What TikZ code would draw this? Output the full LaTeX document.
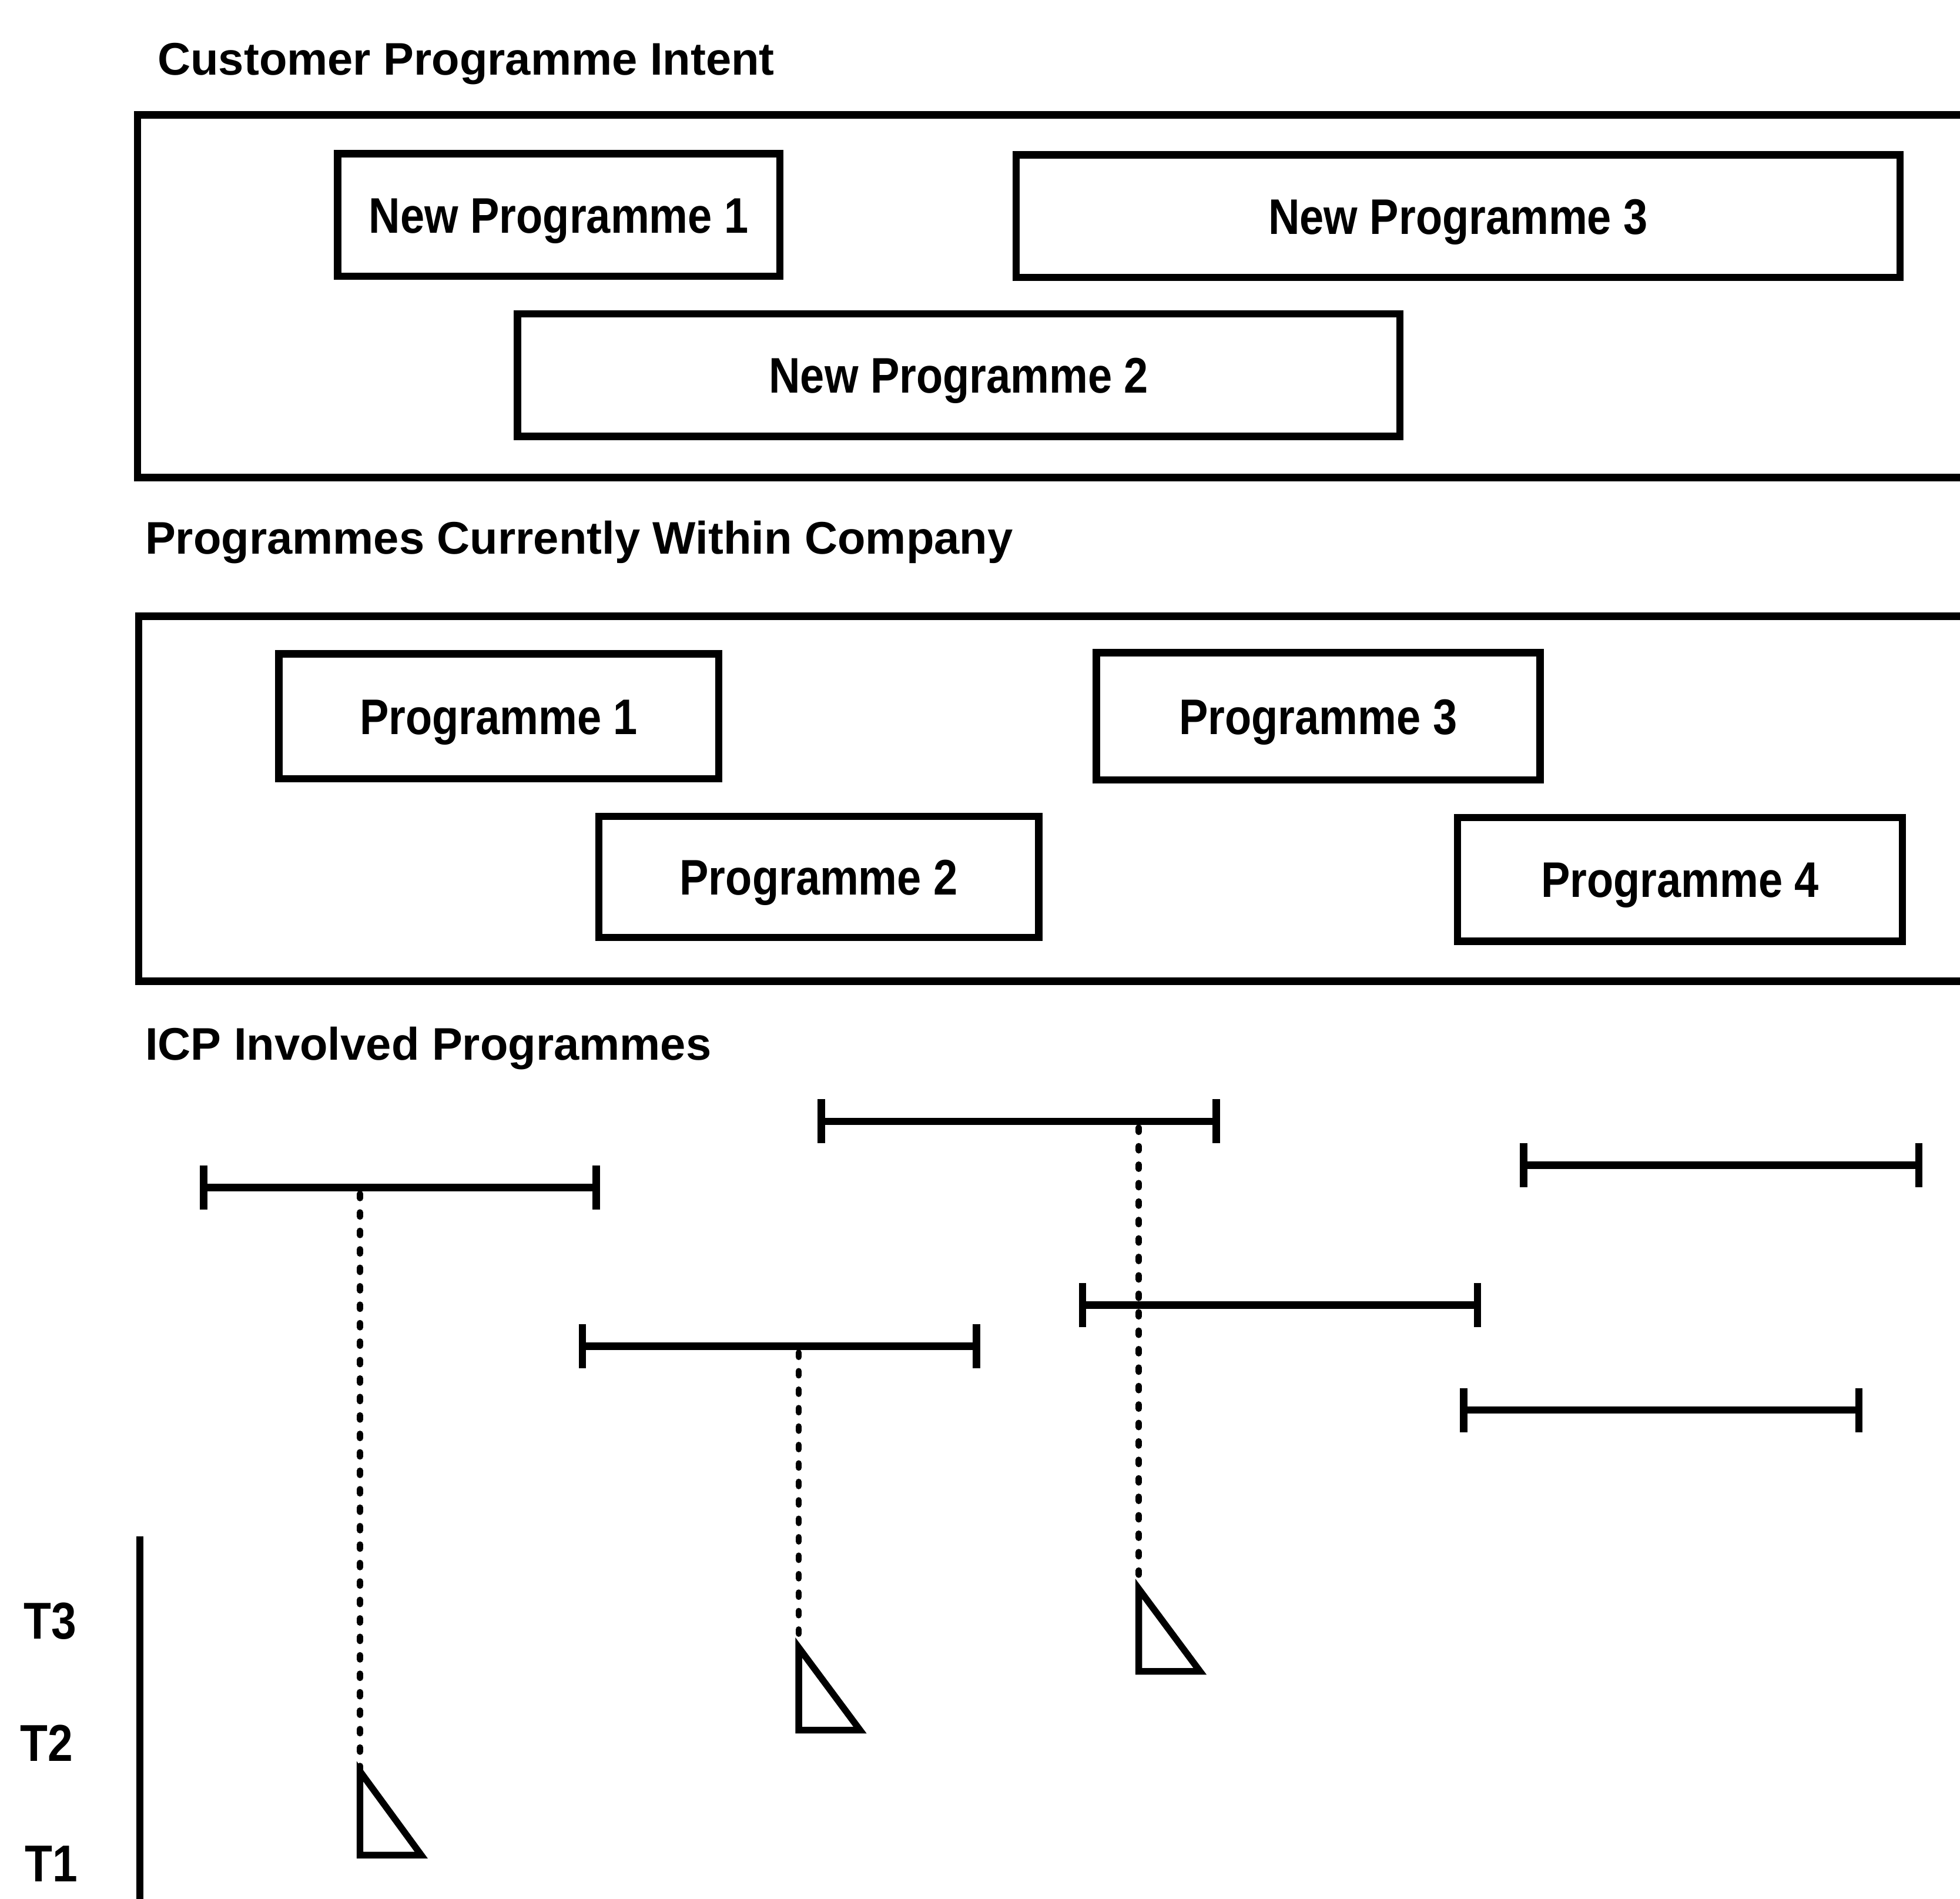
\documentclass[tikz,border=0pt]{standalone}
\usepackage{fontspec}
\setmainfont{Liberation Sans}
\newfontfamily\headfont{Liberation Sans}
\newfontfamily\narrowfont{Liberation Sans}[FakeStretch=0.87]
\usetikzlibrary{arrows.meta}
\begin{document}
\begin{tikzpicture}[x=0.05cm,y=-0.05cm,
  heading/.style={anchor=base west, inner sep=0pt,
    font=\headfont\bfseries\fontsize{52}{60}\selectfont},
  group/.style={draw, line width=8.4pt},
  prog/.style={draw, line width=8.4pt, inner sep=0pt, outer sep=0pt,
    text height=40.7pt, text depth=0pt,
    font=\narrowfont\bfseries\fontsize{56.9}{64}\selectfont},
  span/.style={line width=8.4pt, {Bar[width=50pt]}-{Bar[width=50pt]}},
  drop/.style={line width=7pt, line cap=round, dash pattern=on 5pt off 16pt},
  marker/.style={draw, line width=7.6pt, line join=miter},
  axis/.style={line width=8pt},
  tlabel/.style={anchor=base west, inner sep=0pt,
    font=\narrowfont\bfseries\fontsize{59}{66}\selectfont}
]
\useasboundingbox (0,0) rectangle (1568,1519);
\clip (0,0) rectangle (1568,1519);
\fill[white] (0,0) rectangle (1568,1519);

% --- customer intent -------------------------------------------------
\node[heading] (h1) at (126,60) {Customer Programme Intent};
\draw[group] (110,92) rectangle (1620,382);
\node[prog, minimum width=354*0.05cm, minimum height=98*0.05cm] (np1) at (447,172) {New Programme 1};
\node[prog, minimum width=707*0.05cm, minimum height=98*0.05cm] (np3) at (1166.5,173) {New Programme 3};
\node[prog, minimum width=706*0.05cm, minimum height=98*0.05cm] (np2) at (767,300) {New Programme 2};

% --- current programmes ----------------------------------------------
\node[heading] (h2) at (116,443) {Programmes Currently Within Company};
\draw[group] (111,493) rectangle (1620,785);
\node[prog, minimum width=352*0.05cm, minimum height=100*0.05cm] (p1) at (399,573) {Programme 1};
\node[prog, minimum width=355*0.05cm, minimum height=102*0.05cm] (p3) at (1054.5,573) {Programme 3};
\node[prog, minimum width=352*0.05cm, minimum height=97*0.05cm] (p2) at (655,701.5) {Programme 2};
\node[prog, minimum width=356*0.05cm, minimum height=99*0.05cm] (p4) at (1344,703.5) {Programme 4};

% --- ICP involved programmes -----------------------------------------
\node[heading] (h3) at (116,848) {ICP Involved Programmes};

\coordinate (aL) at (160,950);  \coordinate (aR) at (480,950);
\coordinate (bL) at (654,897);  \coordinate (bR) at (976,897);
\coordinate (cL) at (1216,932); \coordinate (cR) at (1538,932);
\coordinate (dL) at (863,1044); \coordinate (dR) at (1185,1044);
\coordinate (eL) at (463,1077); \coordinate (eR) at (784,1077);
\coordinate (fL) at (1168,1128);\coordinate (fR) at (1490,1128);

\draw[span] (aL) -- (aR);
\draw[span] (bL) -- (bR);
\draw[span] (cL) -- (cR);
\draw[span] (dL) -- (dR);
\draw[span] (eL) -- (eR);
\draw[span] (fL) -- (fR);

% drop points on the spans and the milestone triangles
\coordinate (aDrop) at (288,955);
\coordinate (eDrop) at (639,1082);
\coordinate (bDrop) at (911,902);
\coordinate (tri1) at (288,1417);
\coordinate (tri2) at (639,1318);
\coordinate (tri3) at (911,1271);

\draw[drop] (aDrop) -- ([yshift=-6pt]tri1);
\draw[drop] (eDrop) -- ([yshift=-6pt]tri2);
\draw[drop] (bDrop) -- ([yshift=-6pt]tri3);

\draw[marker] (tri1) -- ++(0,67) -- ++(49,0) -- cycle;
\draw[marker] (tri2) -- ++(0,66) -- ++(49,0) -- cycle;
\draw[marker] (tri3) -- ++(0,66) -- ++(49,0) -- cycle;

% --- time axis -------------------------------------------------------
\coordinate (axTop) at (112,1229);
\coordinate (axBot) at (112,1530);
\draw[axis] (axTop) -- (axBot);
\node[tlabel] (t3) at (19,1311) {T3};
\node[tlabel] (t2) at (16,1409) {T2};
\node[tlabel] (t1) at (20,1505) {T1};
\end{tikzpicture}
\end{document}
